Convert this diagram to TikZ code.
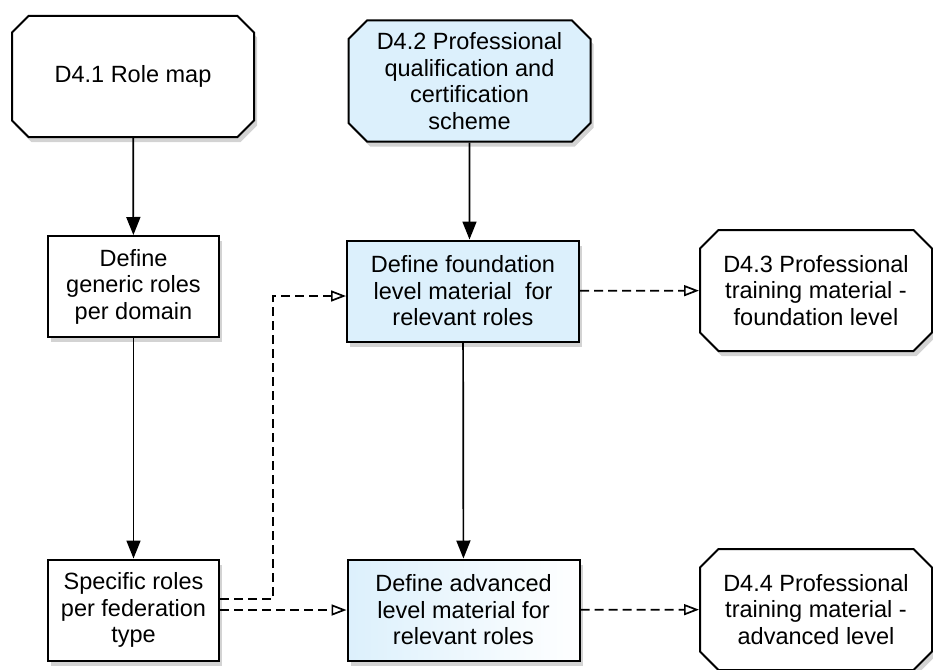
\documentclass[tikz,border=0pt]{standalone}
\usepackage{fontspec}
\setmainfont{Liberation Sans}
\definecolor{roleblue}{RGB}{220,240,252}
\usetikzlibrary{arrows.meta,shapes.misc,shadows}

\begin{document}
\begin{tikzpicture}[x=1pt,y=-1pt,
    font=\fontsize{23.5}{26.5}\selectfont,
    boxshadow/.style={drop shadow={shadow xshift=3pt,shadow yshift=-5pt,opacity=.35}},
    deliv/.style={chamfered rectangle,chamfered rectangle xsep=15pt,draw,line width=2pt,
      fill=white,align=center,minimum width=242pt,minimum height=121pt,inner sep=2pt,boxshadow},
    task/.style={rectangle,draw,line width=2pt,fill=white,align=center,
      minimum height=101pt,inner sep=2pt,boxshadow},
    flow/.style={line width=1.7pt,-{Triangle[length=18pt,width=14pt]}},
    feed/.style={line width=1.7pt,dash pattern=on 9pt off 5pt,-{Triangle[open,length=15pt,width=11pt]}}]
        \useasboundingbox (0,0) rectangle (933,669);
        \node[deliv] (rolemap) at (133,76.5) {D4.1 Role map};
        \node[deliv,fill=roleblue] (qual) at (469.5,81) {D4.2 Professional\\qualification and\\certification\\scheme};
        \node[task,minimum width=171pt] (generic) at (133.5,286.5) {Define\\generic roles\\per domain};
        \node[task,minimum width=171pt] (specific) at (133.5,610) {Specific roles\\per federation\\type};
        \node[task,minimum width=232pt,fill=roleblue] (found) at (463,291) {Define foundation\\level material\ \ for\\relevant roles};
        \node[task,minimum width=232pt,left color=roleblue,right color=white] (adv) at (463.5,610) {Define advanced\\level material for\\relevant roles};
        \node[deliv,minimum width=232pt] (trainfound) at (816,290.5) {D4.3 Professional\\training material -\\foundation level};
        \node[deliv,minimum width=232pt] (trainadv) at (816,609.5) {D4.4 Professional\\training material -\\advanced level};
        \coordinate (bend) at (273,296);
        \draw[flow] (rolemap) -- (generic);
        \draw[flow] (generic) -- (specific);
        \draw[flow] (qual) -- (qual |- found.north);
        \draw[flow] (found) -- (adv);
        \draw[feed] (found) -- (trainfound);
        \draw[feed] (adv) -- (trainadv);
        \draw[feed] (specific) -- (adv);
        \draw[feed] ([yshift=11pt]specific.east) -| (bend) -- (bend -| found.west);
\end{tikzpicture}
\end{document}
